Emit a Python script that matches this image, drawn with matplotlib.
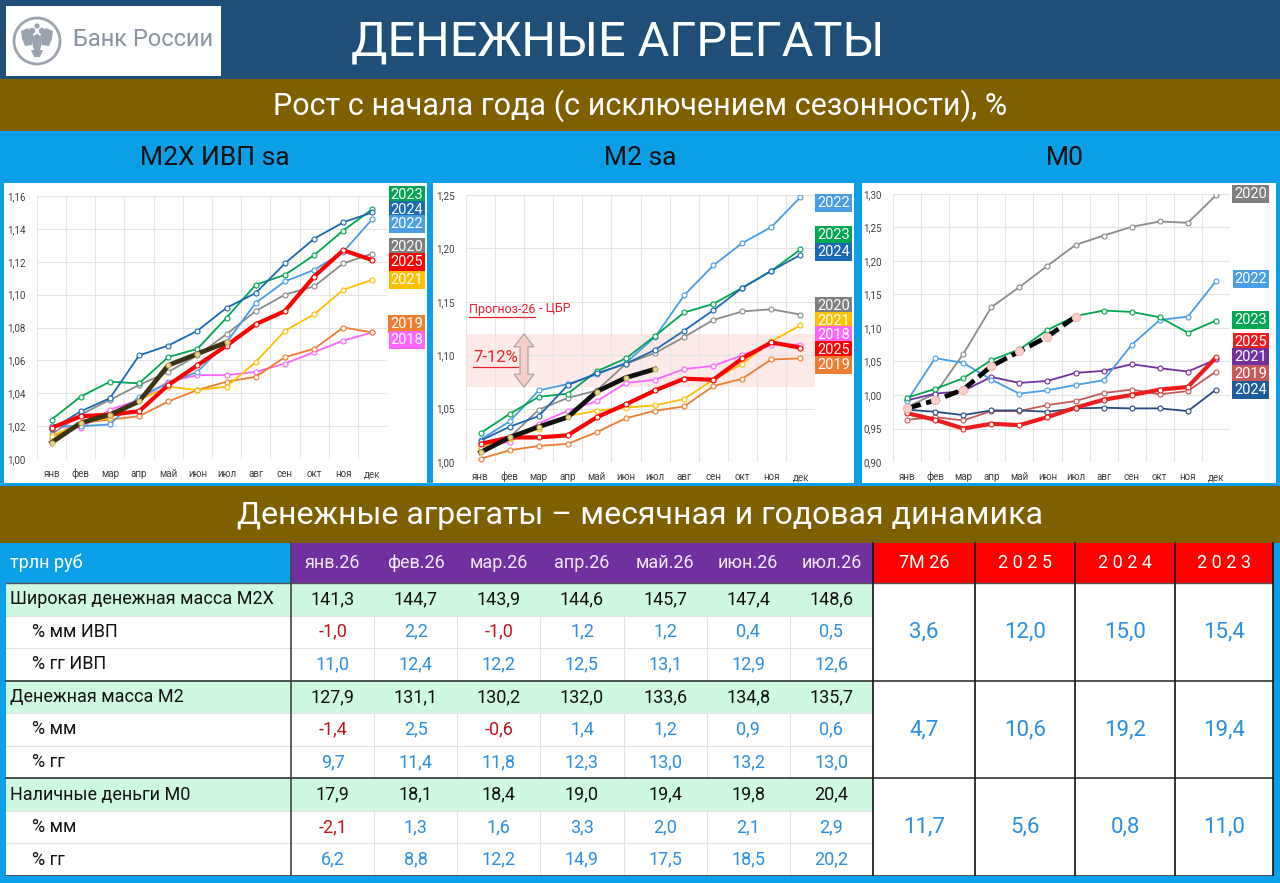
import matplotlib
matplotlib.use("Agg")
import matplotlib.pyplot as plt
import numpy as np
from matplotlib.patches import Rectangle, Circle, Polygon, Ellipse
from matplotlib.ticker import FuncFormatter, FixedLocator

plt.rcParams['font.family'] = ['Roboto', 'DejaVu Sans']

W, H = 1280, 883

###################################################################################################
# data

months = ['янв', 'фев', 'мар', 'апр', 'май', 'июн', 'июл', 'авг', 'сен', 'окт', 'ноя', 'дек']

# M2X ИВП sa, рост с начала года
m2x_2018 = [1.020, 1.019, 1.030, 1.036, 1.047, 1.051, 1.051, 1.053, 1.058, 1.065, 1.072, 1.077]
m2x_2019 = [1.013, 1.022, 1.024, 1.026, 1.035, 1.042, 1.047, 1.050, 1.062, 1.067, 1.080, 1.077]
m2x_2020 = [1.015, 1.027, 1.036, 1.045, 1.053, 1.063, 1.076, 1.090, 1.100, 1.105, 1.119, 1.125]
m2x_2021 = [1.014, 1.022, 1.025, 1.036, 1.044, 1.042, 1.044, 1.059, 1.078, 1.088, 1.103, 1.109]
m2x_2022 = [1.020, 1.020, 1.021, 1.038, 1.046, 1.053, 1.071, 1.095, 1.108, 1.115, 1.126, 1.146]
m2x_2023 = [1.024, 1.038, 1.047, 1.046, 1.062, 1.067, 1.086, 1.106, 1.112, 1.124, 1.139, 1.152]
m2x_2024 = [1.018, 1.029, 1.037, 1.063, 1.069, 1.078, 1.092, 1.101, 1.119, 1.134, 1.144, 1.150]
m2x_2025 = [1.019, 1.026, 1.027, 1.029, 1.045, 1.057, 1.069, 1.082, 1.090, 1.111, 1.127, 1.121]
m2x_2026 = [1.010, 1.022, 1.027, 1.035, 1.057, 1.064, 1.071]

# M2 sa
m2_2018 = [1.014, 1.019, 1.036, 1.048, 1.057, 1.074, 1.077, 1.087, 1.090, 1.100, 1.110, 1.110]
m2_2019 = [1.003, 1.011, 1.015, 1.017, 1.028, 1.041, 1.048, 1.052, 1.071, 1.078, 1.096, 1.097]
m2_2020 = [1.011, 1.023, 1.049, 1.060, 1.067, 1.092, 1.102, 1.117, 1.133, 1.141, 1.143, 1.138]
m2_2021 = [1.014, 1.022, 1.031, 1.043, 1.048, 1.051, 1.053, 1.059, 1.077, 1.092, 1.113, 1.128]
m2_2022 = [1.021, 1.038, 1.067, 1.073, 1.082, 1.093, 1.117, 1.156, 1.184, 1.205, 1.220, 1.248]
m2_2023 = [1.027, 1.045, 1.061, 1.064, 1.085, 1.097, 1.118, 1.140, 1.148, 1.163, 1.179, 1.199]
m2_2024 = [1.020, 1.033, 1.043, 1.072, 1.083, 1.092, 1.105, 1.123, 1.142, 1.163, 1.179, 1.194]
m2_2025 = [1.017, 1.023, 1.023, 1.025, 1.042, 1.054, 1.067, 1.078, 1.077, 1.097, 1.112, 1.107]
m2_2026 = [1.009, 1.023, 1.033, 1.042, 1.066, 1.079, 1.087]
m2_forecast = (1.07, 1.12)   # Прогноз-26 ЦБР, 7-12%

# M0
m0_2019 = [0.963, 0.967, 0.962, 0.976, 0.976, 0.985, 0.991, 1.003, 1.008, 1.001, 1.006, 1.035]
m0_2020 = [0.982, 1.002, 1.061, 1.131, 1.161, 1.193, 1.224, 1.238, 1.251, 1.259, 1.257, 1.298]
m0_2021 = [0.992, 1.002, 1.006, 1.027, 1.018, 1.021, 1.033, 1.036, 1.046, 1.040, 1.035, 1.053]
m0_2022 = [0.991, 1.055, 1.048, 1.023, 1.002, 1.007, 1.015, 1.022, 1.075, 1.112, 1.117, 1.170]
m0_2023 = [0.996, 1.009, 1.025, 1.052, 1.068, 1.097, 1.118, 1.126, 1.124, 1.116, 1.093, 1.111]
m0_2024 = [0.978, 0.975, 0.970, 0.977, 0.977, 0.975, 0.980, 0.981, 0.980, 0.980, 0.976, 1.008]
m0_2025 = [0.973, 0.963, 0.950, 0.957, 0.955, 0.967, 0.981, 0.993, 1.000, 1.008, 1.012, 1.056]
m0_2026 = [0.980, 0.992, 1.008, 1.043, 1.065, 1.087, 1.117]

# table
month_hdr = ['янв.26', 'фев.26', 'мар.26', 'апр.26', 'май.26', 'июн.26', 'июл.26']
period_hdr = ['7M 26', '2 0 2 5', '2 0 2 4', '2 0 2 3']
row_labels = ['Широкая денежная масса M2X', '% мм ИВП', '% гг ИВП',
              'Денежная масса M2', '% мм', '% гг',
              'Наличные деньги M0', '% мм', '% гг']

m2x_lvl = [141.3, 144.7, 143.9, 144.6, 145.7, 147.4, 148.6]
m2x_mm = [-1.0, 2.2, -1.0, 1.2, 1.2, 0.4, 0.5]
m2x_yy = [11.0, 12.4, 12.2, 12.5, 13.1, 12.9, 12.6]
m2_lvl = [127.9, 131.1, 130.2, 132.0, 133.6, 134.8, 135.7]
m2_mm = [-1.4, 2.5, -0.6, 1.4, 1.2, 0.9, 0.6]
m2_yy = [9.7, 11.4, 11.8, 12.3, 13.0, 13.2, 13.0]
m0_lvl = [17.9, 18.1, 18.4, 19.0, 19.4, 19.8, 20.4]
m0_mm = [-2.1, 1.3, 1.6, 3.3, 2.0, 2.1, 2.9]
m0_yy = [6.2, 8.8, 12.2, 14.9, 17.5, 18.5, 20.2]

m2x_period = [3.6, 12.0, 15.0, 15.4]
m2_period = [4.7, 10.6, 19.2, 19.4]
m0_period = [11.7, 5.6, 0.8, 11.0]

###################################################################################################
# styles

BLUE = '#0a9fe6'
NAVY = '#1f4e79'
BROWN = '#7f6000'
TXT_BLUE = '#2b8fe3'
TXT_RED = '#c0141c'
LOGO_GRAY = '#9aa3ae'

col = {'2018': '#ff66ff', '2019': '#ed7d31', '2020': '#8c8c8c', '2021': '#ffc000',
       '2022': '#4a9ee6', '2023': '#00a651', '2024': '#1b68b3', '2025': '#ff0000'}
col_m0 = dict(col, **{'2019': '#c55a5a', '2021': '#7030a0', '2024': '#2b4c7e', '2025': '#ee1c1c'})
box_m0 = dict(col_m0, **{'2024': '#1f5c9e'})


def fmt(v):
    return f"{v:.1f}".replace('.', ',')


fig = plt.figure(figsize=(W / 100, H / 100), dpi=100)
fig.patch.set_facecolor(BLUE)
bg = fig.add_axes([0, 0, 1, 1])
bg.set_xlim(0, W)
bg.set_ylim(H, 0)
bg.axis('off')


def rect(x0, y0, x1, y1, fc, ec='none', lw=0, z=1):
    bg.add_patch(Rectangle((x0, y0), x1 - x0, y1 - y0, facecolor=fc, edgecolor=ec, linewidth=lw, zorder=z))


def px_axes(left, top, right, bottom):
    return fig.add_axes([left / W, 1 - bottom / H, (right - left) / W, (bottom - top) / H])


# ---- header bands
rect(0, 0, W, 79, NAVY)
rect(6, 6, 221, 76, 'white', z=2)
# emblem: ring + rough double-headed eagle
lc, tc = 37, 41
bg.add_patch(Circle((lc, tc), 23, facecolor='none', edgecolor=LOGO_GRAY, linewidth=2, zorder=3))
for s in (-1, 1):
    wing = [(lc + s * 3, tc - 5), (lc + s * 9, tc - 13), (lc + s * 16, tc - 10), (lc + s * 15, tc - 2),
            (lc + s * 12, tc + 5), (lc + s * 5, tc + 4)]
    bg.add_patch(Polygon(wing, closed=True, facecolor=LOGO_GRAY, edgecolor='none', zorder=3))
    bg.add_patch(Circle((lc + s * 5, tc - 10), 3.2, facecolor=LOGO_GRAY, zorder=3))
bg.add_patch(Ellipse((lc, tc + 2), 9, 18, facecolor=LOGO_GRAY, zorder=3))
bg.add_patch(Circle((lc, tc - 15), 2.6, facecolor=LOGO_GRAY, zorder=3))
bg.add_patch(Polygon([(lc - 6, tc + 9), (lc + 6, tc + 9), (lc + 3, tc + 16), (lc - 3, tc + 16)],
                     closed=True, facecolor=LOGO_GRAY, zorder=3))
bg.text(73, 40, 'Банк России', color='#8a94a0', fontsize=17, va='center', ha='left', zorder=4)
bg.text(618, 42, 'ДЕНЕЖНЫЕ АГРЕГАТЫ', color='white', fontsize=35, va='center', ha='center')
rect(0, 79, W, 131, BROWN)
bg.text(640, 106, 'Рост с начала года (с исключением сезонности), %', color='white',
        fontsize=22, va='center', ha='center')
for cx, t in [(215, 'M2X ИВП sa'), (640, 'M2 sa'), (1065, 'M0')]:
    bg.text(cx, 158, t, color='#111111', fontsize=19, va='center', ha='center')

# chart panels
for x0, x1 in [(4, 427), (433, 854), (862, 1276)]:
    rect(x0, 183, x1, 483, 'white')

rect(0, 486, W, 543, BROWN)
bg.text(640, 515, 'Денежные агрегаты – месячная и годовая динамика', color='white',
        fontsize=23, va='center', ha='center')

###################################################################################################
# charts


def draw_chart(box, series, colors, cur, cur_style, ylim, ystep, labels, box_colors, lab_x):
    ax = px_axes(*box)
    ax.set_facecolor('none')
    for yr, vals in series.items():
        thick = yr == '2025'
        ax.plot(np.arange(len(vals)), vals, color=colors[yr], lw=3.0 if thick else 1.3,
                marker='o', ms=3.6, mfc='white', mec=colors[yr], mew=0.8,
                zorder=4 if thick else 3, solid_capstyle='round')
    ax.plot(np.arange(len(cur)), cur, zorder=5, **cur_style)
    ax.set_xlim(-0.5, 11.5)
    ax.set_ylim(*ylim)
    ax.set_xticks(np.arange(12))
    ax.set_xticklabels(months)
    ax.xaxis.set_minor_locator(FixedLocator(np.arange(-0.5, 12, 1)))
    ax.yaxis.set_major_locator(FixedLocator(np.arange(ylim[0], ylim[1] + 1e-9, ystep)))
    ax.yaxis.set_major_formatter(FuncFormatter(lambda v, p: f"{v:.2f}".replace('.', ',')))
    ax.tick_params(axis='both', which='both', length=0, labelsize=7, labelcolor='#404040')
    ax.tick_params(axis='y', pad=8)
    ax.tick_params(axis='x', pad=13)
    for lbl in ax.get_xticklabels():
        lbl.set_verticalalignment('baseline')
    ax.grid(True, axis='y', which='major', color='#e4e4e4', lw=0.8, zorder=0)
    ax.grid(True, axis='x', which='minor', color='#e4e4e4', lw=0.8, zorder=0)
    for s in ax.spines.values():
        s.set_visible(False)
    for yr, ypos in labels:
        ax.text(lab_x, ypos, yr, transform=ax.get_yaxis_transform(), ha='center', va='center',
                color='white', fontsize=10.5, clip_on=False, zorder=6,
                bbox=dict(boxstyle='square,pad=0.14', fc=box_colors[yr], ec='none'))
    return ax


m2x_series = {'2018': m2x_2018, '2019': m2x_2019, '2020': m2x_2020, '2021': m2x_2021,
              '2022': m2x_2022, '2023': m2x_2023, '2024': m2x_2024, '2025': m2x_2025}
m2_series = {'2018': m2_2018, '2019': m2_2019, '2020': m2_2020, '2021': m2_2021,
             '2022': m2_2022, '2023': m2_2023, '2024': m2_2024, '2025': m2_2025}
m0_series = {'2019': m0_2019, '2020': m0_2020, '2021': m0_2021, '2022': m0_2022,
             '2023': m0_2023, '2024': m0_2024, '2025': m0_2025}

ax1 = draw_chart((37, 196, 387, 459), m2x_series, col, m2x_2026,
                 dict(color='#3b3312', lw=3.4, marker='o', ms=3.6, mfc='#e8d890', mec='#c8b060', mew=0.8),
                 (1.00, 1.16), 0.02,
                 [('2023', 1.1606), ('2024', 1.1515), ('2022', 1.1430), ('2020', 1.1290),
                  ('2025', 1.1198), ('2021', 1.1089), ('2019', 1.0822), ('2018', 1.0724)],
                 dict(col, **{'2020': '#7f7f7f'}), 1.057)

ax2 = draw_chart((466, 195, 815, 462), m2_series, col, m2_2026,
                 dict(color='#111111', lw=3.4, marker='o', ms=3.6, mfc='#e8d890', mec='#c8b060', mew=0.8),
                 (1.00, 1.25), 0.05,
                 [('2022', 1.2425), ('2023', 1.2125), ('2024', 1.1966), ('2020', 1.1460),
                  ('2021', 1.1319), ('2018', 1.1188), ('2025', 1.1047), ('2019', 1.0906)],
                 dict(col, **{'2020': '#7f7f7f'}), 1.054)
ax2.axhspan(*m2_forecast, color='#fde4e1', alpha=0.75, zorder=1, lw=0)

ax3 = draw_chart((893, 194, 1230, 462), m0_series, col_m0, m0_2026,
                 dict(color='black', lw=3.4, ls=(0, (3, 1.2)), marker='o', ms=6, mfc='#f8d0cc',
                      mec='#f0b8b4', mew=0.8),
                 (0.90, 1.30), 0.05,
                 [('2020', 1.300), ('2022', 1.173), ('2023', 1.112), ('2025', 1.079),
                  ('2021', 1.056), ('2019', 1.032), ('2024', 1.007)],
                 dict(box_m0, **{'2020': '#7f7f7f'}), 1.062)

# forecast annotation on M2 chart, in an overlay above the chart axes
ov = fig.add_axes([0, 0, 1, 1])
ov.set_xlim(0, W)
ov.set_ylim(H, 0)
ov.axis('off')
ov.patch.set_alpha(0)

RED_NOTE = '#e8202a'
t1 = ov.text(469, 309, 'Прогноз-26 ', color=RED_NOTE, fontsize=9, va='center', ha='left')
t3 = ov.text(473, 358, '7-12%', color=RED_NOTE, fontsize=12, va='center', ha='left')
fig.canvas.draw()
r = fig.canvas.get_renderer()
bb1 = t1.get_window_extent(r)
ov.text(bb1.x1, 309, '- ЦБР', color=RED_NOTE, fontsize=9, va='center', ha='left')
for bb, trim in ((bb1, 4), (t3.get_window_extent(r), 0)):
    yb = H - bb.y0 + 1
    ov.plot([bb.x0, bb.x1 - trim], [yb, yb], color=RED_NOTE, lw=0.9)

ytop = H - ax2.transData.transform((0, m2_forecast[1]))[1]
ybot = H - ax2.transData.transform((0, m2_forecast[0]))[1]
ac, hw, sw, hl = 524, 10, 4, 13
arrow = [(ac, ytop), (ac + hw, ytop + hl), (ac + sw, ytop + hl), (ac + sw, ybot - hl),
         (ac + hw, ybot - hl), (ac, ybot), (ac - hw, ybot - hl), (ac - sw, ybot - hl),
         (ac - sw, ytop + hl), (ac - hw, ytop + hl)]
ov.add_patch(Polygon(arrow, closed=True, facecolor='#f6cfcb', edgecolor='#a8a8a8', lw=0.9))

###################################################################################################
# table

TY0, TY1 = 543, 583
RH = (876 - TY1) / 9
XL, XM = 6, 291
CW = (873 - XM) / 7
PX = [873, 975, 1075, 1175, 1273]

rect(0, TY0, XM, TY1, BLUE)
rect(XM, TY0, 873, TY1, '#7030a0')
rect(873, TY0, 1273, TY1, '#ff0000')
bg.text(10, (TY0 + TY1) / 2, 'трлн руб', color='white', fontsize=13, va='center', ha='left')
for j, m in enumerate(month_hdr):
    bg.text(XM + CW * (j + 0.5), (TY0 + TY1) / 2, m, color='#f1e8fb', fontsize=13, va='center', ha='center')
for j, p in enumerate(period_hdr):
    bg.text((PX[j] + PX[j + 1]) / 2, (TY0 + TY1) / 2, p, color='white', fontsize=13, va='center', ha='center')

rows = [m2x_lvl, m2x_mm, m2x_yy, m2_lvl, m2_mm, m2_yy, m0_lvl, m0_mm, m0_yy]
periods = [m2x_period, m2_period, m0_period]

for i, (lab, vals) in enumerate(zip(row_labels, rows)):
    y0 = TY1 + i * RH
    yc = y0 + RH / 2
    main = i % 3 == 0
    rect(XL, y0, 873, y0 + RH, '#cff8e1' if main else 'white')
    bg.text(10 if main else 32, yc, lab, color='#111111', fontsize=13, va='center', ha='left', zorder=3)
    for j, v in enumerate(vals):
        c = '#111111' if main else (TXT_RED if v < 0 else TXT_BLUE)
        bg.text(XM + CW * (j + 0.5), yc, fmt(v), color=c, fontsize=13, va='center', ha='center', zorder=3)
    if not main:
        bg.plot([XL, 873], [y0, y0], color='#e2e2e2', lw=0.8, zorder=2)
        for j in range(1, 7):
            bg.plot([XM + CW * j] * 2, [y0, y0 + RH], color='#e2e2e2', lw=0.8, zorder=2)

for g, pv in enumerate(periods):
    y0 = TY1 + g * 3 * RH
    y1 = y0 + 3 * RH
    rect(873, y0, 1273, y1, 'white')
    for j, v in enumerate(pv):
        bg.text((PX[j] + PX[j + 1]) / 2, (y0 + y1) / 2, fmt(v), color=TXT_BLUE, fontsize=16,
                va='center', ha='center', zorder=3)
    bg.plot([XL, 1273], [y1, y1], color='#333333', lw=1.2, zorder=4)

bg.plot([XL, 1273], [TY1, TY1], color='#555555', lw=1.0, zorder=4)
bg.plot([XM, XM], [TY0, 876], color='#444444', lw=1.2, zorder=4)
for x in PX:
    bg.plot([x, x], [TY0, 876], color='#111111', lw=1.2, zorder=4)
rect(0, 876, W, H, BLUE, z=5)

fig.savefig('out.png', dpi=100, facecolor=fig.get_facecolor())
